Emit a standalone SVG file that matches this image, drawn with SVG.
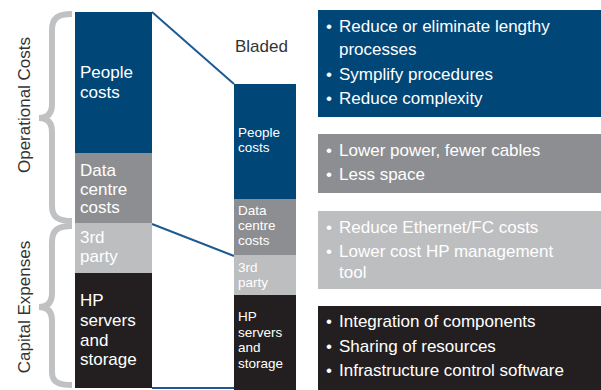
<svg xmlns="http://www.w3.org/2000/svg" width="601" height="390" viewBox="0 0 601 390">
<style>
text{font-family:"Liberation Sans","DejaVu Sans",sans-serif;fill:#fff}
.big{font-size:17px}
.sm{font-size:13.5px}
.lab{font-size:17px;fill:#333}
.brace{fill:none;stroke:#c0c1c3;stroke-width:6}
.conn{stroke:#1d5a92;stroke-width:2;fill:none}
.blue{fill:#004677}.grey{fill:#8d8e91}.lgrey{fill:#bdbec0}.black{fill:#231f20}
</style>
<rect width="601" height="390" fill="#fff"/>
<g id="braces">
<path class="brace" d="M72,14 C58,14 52,18 52,30 L52,104 C52,113 48,118 39,118 C48,118 52,123 52,132 L52,206 C52,217 58,221 72,221"/>
<path class="brace" d="M72,226 C58,226 52,230 52,242 L52,293 C52,302 48,307 39,307 C48,307 52,312 52,321 L52,372 C52,382 58,385 72,385"/>
<text class="lab" transform="translate(30,105) rotate(-90)" text-anchor="middle">Operational Costs</text>
<text class="lab" transform="translate(30,307) rotate(-90)" text-anchor="middle">Capital Expenses</text>
</g>
<g id="connectors">
<line class="conn" x1="152" y1="12" x2="234" y2="84"/>
<line class="conn" x1="152" y1="224" x2="234" y2="256"/>
<line class="conn" x1="152" y1="388" x2="234" y2="388"/>
</g>
<g id="current-people"><rect class="blue" x="75" y="12" width="77" height="141"/><text class="big" x="80" y="78">People</text><text class="big" x="80" y="98">costs</text></g>
<g id="current-datacentre"><rect class="grey" x="75" y="153" width="77" height="70"/><text class="big" x="80" y="176">Data</text><text class="big" x="80" y="195">centre</text><text class="big" x="80" y="213">costs</text></g>
<g id="current-3rdparty"><rect class="lgrey" x="75" y="223" width="77" height="50"/><text class="big" x="80" y="243">3rd</text><text class="big" x="80" y="262">party</text></g>
<g id="current-hp"><rect class="black" x="75" y="273" width="77" height="115"/><text class="big" x="80" y="306">HP</text><text class="big" x="80" y="326">servers</text><text class="big" x="80" y="346">and</text><text class="big" x="80" y="365">storage</text></g>
<g id="bladed-title"><text class="lab" x="235" y="52">Bladed</text></g>
<g id="bladed-people"><rect class="blue" x="234" y="84" width="62" height="115"/><text class="sm" x="238" y="137">People</text><text class="sm" x="238" y="152">costs</text></g>
<g id="bladed-datacentre"><rect class="grey" x="234" y="199" width="62" height="56"/><text class="sm" x="238" y="215">Data</text><text class="sm" x="238" y="230">centre</text><text class="sm" x="238" y="245">costs</text></g>
<g id="bladed-3rdparty"><rect class="lgrey" x="234" y="255" width="62" height="40"/><text class="sm" x="238" y="272">3rd</text><text class="sm" x="238" y="287">party</text></g>
<g id="bladed-hp"><rect class="black" x="234" y="295" width="62" height="95"/><text class="sm" x="238" y="321">HP</text><text class="sm" x="238" y="337">servers</text><text class="sm" x="238" y="352">and</text><text class="sm" x="238" y="368">storage</text></g>
<g id="box-people"><rect class="blue" x="318" y="10" width="283" height="107"/>
<text class="big" x="326" y="32">•</text><text class="big" x="339" y="32">Reduce or eliminate lengthy</text>
<text class="big" x="339" y="55">processes</text>
<text class="big" x="326" y="80">•</text><text class="big" x="339" y="80">Symplify procedures</text>
<text class="big" x="326" y="104">•</text><text class="big" x="339" y="104">Reduce complexity</text></g>
<g id="box-datacentre"><rect class="grey" x="318" y="134" width="283" height="59"/>
<text class="big" x="326" y="156">•</text><text class="big" x="339" y="156">Lower power, fewer cables</text>
<text class="big" x="326" y="180">•</text><text class="big" x="339" y="180">Less space</text></g>
<g id="box-3rdparty"><rect class="lgrey" x="318" y="211" width="283" height="78"/>
<text class="big" x="326" y="233">•</text><text class="big" x="339" y="233">Reduce Ethernet/FC costs</text>
<text class="big" x="326" y="257">•</text><text class="big" x="339" y="257">Lower cost HP management</text>
<text class="big" x="339" y="278">tool</text></g>
<g id="box-hp"><rect class="black" x="318" y="306" width="283" height="84"/>
<text class="big" x="326" y="327">•</text><text class="big" x="339" y="327">Integration of components</text>
<text class="big" x="326" y="352">•</text><text class="big" x="339" y="352">Sharing of resources</text>
<text class="big" x="326" y="376">•</text><text class="big" x="339" y="376">Infrastructure control software</text></g>
</svg>
